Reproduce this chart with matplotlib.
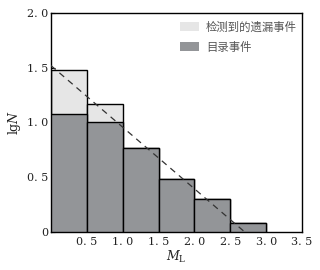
import numpy as np
import matplotlib.pyplot as plt
from matplotlib.patches import Patch

plt.rcParams['font.family'] = ['Noto Sans CJK SC', 'DejaVu Sans']
plt.rcParams['mathtext.fontset'] = 'dejavuserif'

# magnitude bins (left edges, width 0.5)
bin_left = [0.0, 0.5, 1.0, 1.5, 2.0, 2.5]
bin_width = 0.5
# lgN of catalogue events and of detected missed events (total height)
catalog_lgN = [1.08, 1.00, 0.77, 0.48, 0.30, 0.085]
total_lgN = [1.48, 1.17, 0.77, 0.48, 0.30, 0.085]

# fitted G-R line endpoints
fit_ml = [0.0, 2.70]
fit_lgN = [1.52, 0.0]

xticks = [0.5, 1.0, 1.5, 2.0, 2.5, 3.0, 3.5]
xtick_labels = ['0. 5', '1. 0', '1. 5', '2. 0', '2. 5', '3. 0', '3. 5']
yticks = [0, 0.5, 1.0, 1.5, 2.0]
ytick_labels = ['0', '0. 5', '1. 0', '1. 5', '2. 0']

light = '#e6e6e6'
dark = '#939598'
txt = '#222222'

fig = plt.figure(figsize=(3.2, 2.7), dpi=100)
ax = fig.add_axes([0.159, 0.141, 0.785, 0.811])

ax.bar(bin_left, total_lgN, width=bin_width, align='edge', color=light,
       edgecolor='black', linewidth=1.0, zorder=2)
ax.bar(bin_left, catalog_lgN, width=bin_width, align='edge', color=dark,
       edgecolor='black', linewidth=1.0, zorder=3)
ax.plot(fit_ml, fit_lgN, color='#333333', linestyle=(0, (5, 4)), linewidth=0.9, zorder=4)

ax.set_xlim(0, 3.5)
ax.set_ylim(0, 2.0)
ax.set_xticks(xticks)
ax.set_xticklabels(xtick_labels, family='DejaVu Serif', fontsize=8, color=txt)
ax.set_yticks(yticks)
ax.set_yticklabels(ytick_labels, family='DejaVu Serif', fontsize=8, color=txt)
ax.tick_params(axis='both', direction='in', length=3, width=0.8, pad=2)
ax.tick_params(axis='x', length=0, pad=4)
for s in ax.spines.values():
    s.set_linewidth(1.0)

ax.set_xlabel('$M_\\mathrm{L}$', fontsize=9, labelpad=1, color=txt)
ax.set_ylabel('lg$N$', fontsize=9, labelpad=3, family='DejaVu Serif', color=txt)

handles = [Patch(facecolor=light, edgecolor='none', label='检测到的遗漏事件'),
           Patch(facecolor=dark, edgecolor='none', label='目录事件')]
ax.legend(handles=handles, loc='upper right', bbox_to_anchor=(1.0, 0.985),
          frameon=False, fontsize=8.2,
          handlelength=1.7, handleheight=0.8, handletextpad=0.6,
          labelcolor='#555555', borderaxespad=0.05, labelspacing=0.8)

fig.savefig('out.png', dpi=100)
